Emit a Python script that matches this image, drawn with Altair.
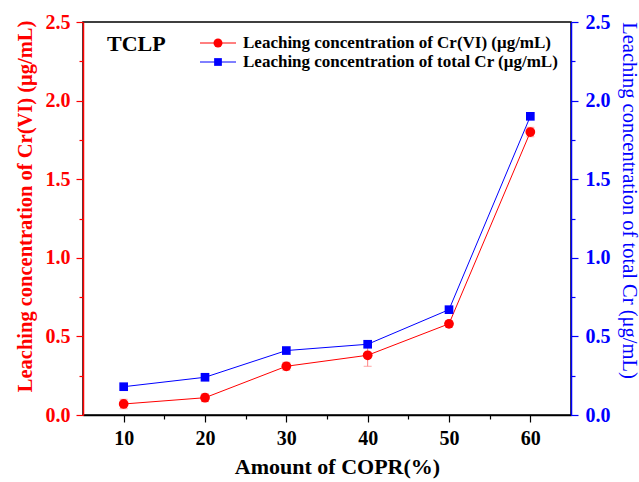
import altair as alt
import pandas as pd

# ---- data ----
copr = [10, 20, 30, 40, 50, 60]
cr6 = [0.07, 0.11, 0.31, 0.38, 0.58, 1.80]
cr6_err = [0.03, 0.025, 0.025, 0.07, 0.02, 0.03]
total_cr = [0.18, 0.24, 0.41, 0.45, 0.67, 1.90]

series_names = ["Leaching concentration of Cr(VI) (μg/mL)",
                "Leaching concentration of total Cr (μg/mL)"]
series_colors = ["#ff0000", "#0000ff"]
y_ticks = [0, 0.25, 0.5, 0.75, 1.0, 1.25, 1.5, 1.75, 2.0, 2.25, 2.5]
x_ticks = [10, 15, 20, 25, 30, 35, 40, 45, 50, 55, 60]

df = pd.DataFrame({
    "copr": copr,
    "cr6": cr6,
    "lo": [v - e for v, e in zip(cr6, cr6_err)],
    "hi": [v + e for v, e in zip(cr6, cr6_err)],
    "total": total_cr,
})

FONT = "Liberation Serif"
W, H = 488, 393

xscale = alt.Scale(domain=[5, 65], nice=False, zero=False)
yscale = alt.Scale(domain=[0, 2.5], nice=False)

x_axis = alt.Axis(
    values=x_ticks, title="Amount of COPR(%)",
    labelExpr="datum.value % 10 === 0 ? datum.label : ''",
    tickSize={"condition": {"test": "datum.value % 10 !== 0", "value": 4}, "value": 7},
    domainColor="black", tickColor="black", labelColor="black", titleColor="black",
    labelFontSize=20, titleFontSize=22, labelFontWeight="bold", titleFontWeight="bold",
    labelFont=FONT, titleFont=FONT, domainWidth=1.5, tickWidth=1.2,
    labelPadding=6, titlePadding=8, titleX=254, grid=False,
)

def y_axis(orient, color, title, weight, tpad, lpad, ty):
    return alt.Axis(
        orient=orient, values=y_ticks, title=title,
        labelExpr="datum.value % 0.5 === 0 ? format(datum.value, '.1f') : ''",
        tickSize={"condition": {"test": "datum.value % 0.5 !== 0", "value": 4}, "value": 7},
        domainColor=color, tickColor=color, labelColor=color, titleColor=color,
        labelFontSize=20, titleFontSize=20.5, labelFontWeight="bold", titleFontWeight=weight,
        labelFont=FONT, titleFont=FONT, domainWidth=1.5, tickWidth=1.2,
        labelPadding=lpad, titlePadding=tpad, titleY=ty, grid=False,
    )

left_axis = y_axis("left", "#ff0000", series_names[0], "bold", 10, 6, 184)
right_axis = y_axis("right", "#0000ff", "Leaching concentration of total Cr (μg/mL)", "normal", 8, 7, 178)

X = alt.X("copr:Q", scale=xscale, axis=x_axis)

base = alt.Chart(df)

err_rule = base.mark_rule(color="#ff8080", strokeWidth=1).encode(
    x=X, y=alt.Y("lo:Q", scale=yscale, axis=left_axis), y2="hi:Q")
cap_lo = base.mark_tick(color="#ff8080", orient="horizontal", size=8, thickness=1).encode(
    x=X, y=alt.Y("lo:Q", scale=yscale, axis=left_axis))
cap_hi = base.mark_tick(color="#ff8080", orient="horizontal", size=8, thickness=1).encode(
    x=X, y=alt.Y("hi:Q", scale=yscale, axis=left_axis))
red_line = base.mark_line(color="#ff0000", strokeWidth=1).encode(
    x=X, y=alt.Y("cr6:Q", scale=yscale, axis=left_axis))
red_pts = base.mark_point(shape="circle", filled=True, color="#ff0000", size=95, opacity=1).encode(
    x=X, y=alt.Y("cr6:Q", scale=yscale, axis=left_axis))

left = alt.layer(err_rule, cap_lo, cap_hi, red_line, red_pts)

blue_line = base.mark_line(color="#0000ff", strokeWidth=1).encode(
    x=X, y=alt.Y("total:Q", scale=yscale, axis=right_axis))
blue_pts = base.mark_point(shape="square", filled=True, color="#0000ff", size=75, opacity=1).encode(
    x=X, y=alt.Y("total:Q", scale=yscale, axis=right_axis))
right = alt.layer(blue_line, blue_pts)

# ---- manual legend ----
one = pd.DataFrame({"a": [0]})
leg = [alt.Chart(one).mark_text(font=FONT, fontSize=22, fontWeight="bold", align="left",
                                baseline="middle", color="black").encode(
    x=alt.value(24), y=alt.value(22), text=alt.value("TCLP"))]
shapes = ["circle", "square"]
sizes = [80, 60]
for i, (name, col) in enumerate(zip(series_names, series_colors)):
    yy = 21 + i * 19
    leg.append(alt.Chart(one).mark_rule(color=col, strokeWidth=1).encode(
        x=alt.value(117), x2=alt.value(153), y=alt.value(yy)))
    leg.append(alt.Chart(one).mark_point(shape=shapes[i], filled=True, color=col,
                                         size=sizes[i], opacity=1).encode(
        x=alt.value(135), y=alt.value(yy)))
    leg.append(alt.Chart(one).mark_text(font=FONT, fontSize=17, fontWeight="bold", align="left",
                                        baseline="middle", color="black").encode(
        x=alt.value(160), y=alt.value(yy), text=alt.value(name)))

chart = alt.layer(left, right, *leg).resolve_scale(y="independent").properties(
    width=W, height=H,
    autosize=alt.AutoSizeParams(type="none"),
    padding={"left": 83, "top": 22, "right": 68, "bottom": 67},
    background="white",
).configure_view(stroke="black", strokeWidth=1.5)

chart.save("out.html", embed_options={"renderer": "svg", "actions": False})
